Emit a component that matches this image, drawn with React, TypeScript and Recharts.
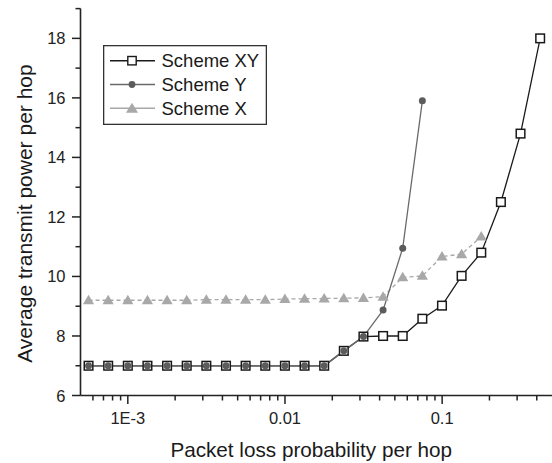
import React from "react"
import { LineChart, Line, XAxis, YAxis } from "recharts"

// packet loss probability per hop (x values, shared by all schemes)
const lossProb = [
  5.625e-4, 7.5e-4, 1e-3, 1.333e-3, 1.778e-3, 2.37e-3, 3.16e-3, 4.214e-3, 5.619e-3, 7.492e-3,
  9.989e-3, 1.332e-2, 1.776e-2, 2.368e-2, 3.157e-2, 4.209e-2, 5.612e-2, 7.483e-2, 9.977e-2,
  0.133, 0.1774, 0.2365, 0.3153, 0.4204,
]

const schemeXY = [
  7, 7, 7, 7, 7, 7, 7, 7, 7, 7, 7, 7, 7, 7.5, 7.98, 8.0, 8.0, 8.58, 9.02, 10.02, 10.8, 12.5, 14.8, 18.0,
]
const schemeY = [7, 7, 7, 7, 7, 7, 7, 7, 7, 7, 7, 7, 7, 7.5, 7.98, 8.87, 10.95, 15.9]
const schemeX = [
  9.2, 9.2, 9.2, 9.2, 9.2, 9.2, 9.22, 9.22, 9.22, 9.22, 9.24, 9.25, 9.26, 9.27, 9.28, 9.32, 9.97,
  10.02, 10.67, 10.75, 11.34,
]

const xTicks = [
  6e-4, 7e-4, 8e-4, 9e-4, 1e-3, 2e-3, 3e-3, 4e-3, 5e-3, 6e-3, 7e-3, 8e-3, 9e-3, 0.01, 0.02, 0.03,
  0.04, 0.05, 0.06, 0.07, 0.08, 0.09, 0.1, 0.2, 0.3, 0.4,
]
const xTickLabels: Record<string, string> = { "0.001": "1E-3", "0.01": "0.01", "0.1": "0.1" }
const yTicks = [6, 7, 8, 9, 10, 11, 12, 13, 14, 15, 16, 17, 18, 19]

const FONT = '"Liberation Sans", Arial, Helvetica, sans-serif'
const AXIS = "#222"

const toPoints = (ys: number[]) => ys.map((y, i) => ({ x: lossProb[i], y }))
const dataXY = toPoints(schemeXY)
const dataY = toPoints(schemeY)
const dataX = toPoints(schemeX)

const XTick = ({ x, y, payload }: any) => {
  const label = xTickLabels[String(payload.value)]
  return (
    <g>
      <line x1={x} x2={x} y1={y} y2={y + (label ? 8.5 : 5)} stroke={AXIS} strokeWidth={1.5} />
      {label && (
        <text x={x} y={y + 22.5} textAnchor="middle" dominantBaseline="central" fontSize={16.5} fill="#222" fontFamily={FONT}>
          {label}
        </text>
      )}
    </g>
  )
}

const YTick = ({ x, y, payload }: any) => {
  const major = payload.value % 2 === 0
  return (
    <g>
      <line x1={x} x2={x - (major ? 8.5 : 5)} y1={y} y2={y} stroke={AXIS} strokeWidth={1.5} />
      {major && (
        <text x={x - 15} y={y} textAnchor="end" dominantBaseline="central" fontSize={16.5} fill="#222" fontFamily={FONT}>
          {payload.value}
        </text>
      )}
    </g>
  )
}

const squareDot = (p: any) => (
  <rect key={p.index} x={p.cx - 4.3} y={p.cy - 4.3} width={8.6} height={8.6} fill="#fff" stroke="#1a1a1a" strokeWidth={1.5} />
)
const circleDot = (p: any) => <circle key={p.index} cx={p.cx} cy={p.cy} r={3.5} fill="#5c5c5c" />
const triangleDot = (p: any) => (
  <path key={p.index} d={`M${p.cx},${p.cy - 5.5} L${p.cx + 5.6},${p.cy + 4} L${p.cx - 5.6},${p.cy + 4} Z`} fill="#a8a8a8" />
)

const legendItems = [
  { name: "Scheme XY", color: "#1a1a1a", marker: "square" },
  { name: "Scheme Y", color: "#6a6a6a", marker: "circle" },
  { name: "Scheme X", color: "#a8a8a8", marker: "triangle" },
]

function ChartLegend() {
  return (
    <svg
      width={164}
      height={80}
      style={{ position: "absolute", left: 103, top: 45, overflow: "visible" }}
    >
      <rect x={0.65} y={0.65} width={162.7} height={78.7} fill="#fff" stroke="#333" strokeWidth={1.3} />
      {legendItems.map((item, i) => {
        const cy = 15.7 + i * 23.8
        const cx = 29
        return (
          <g key={item.name}>
            <line x1={7} x2={52} y1={cy} y2={cy} stroke={item.color} strokeWidth={1.4} />
            {item.marker === "square" && (
              <rect x={cx - 4.2} y={cy - 4.2} width={8.4} height={8.4} fill="#fff" stroke="#1a1a1a" strokeWidth={1.4} />
            )}
            {item.marker === "circle" && <circle cx={cx} cy={cy} r={3.4} fill="#5c5c5c" />}
            {item.marker === "triangle" && (
              <path d={`M${cx},${cy - 5.5} L${cx + 6},${cy + 4.5} L${cx - 6},${cy + 4.5} Z`} fill="#a8a8a8" />
            )}
            <text x={58.5} y={cy} dominantBaseline="central" fontSize={18.5} fill="#1a1a1a" fontFamily={FONT}>
              {item.name}
            </text>
          </g>
        )
      })}
    </svg>
  )
}

export default function App() {
  return (
    <div style={{ position: "absolute", left: 0, top: 0, width: 552, height: 463, background: "#fff" }}>
      <LineChart width={552} height={463} margin={{ top: 8.6, right: 0, bottom: 0, left: 0 }}>
        <XAxis
          type="number"
          dataKey="x"
          scale="log"
          domain={[5e-4, 0.5]}
          allowDataOverflow
          ticks={xTicks}
          interval={0}
          height={67.5}
          tickSize={0}
          tickMargin={0}
          tickLine={false}
          tick={<XTick />}
          axisLine={{ stroke: AXIS, strokeWidth: 1.6 }}
          label={{
            content: ({ viewBox }: any) => (
              <text
                x={viewBox.x + viewBox.width / 2 - 5}
                y={viewBox.y + 54}
                textAnchor="middle"
                dominantBaseline="central"
                fontSize={20.7}
                fill="#1a1a1a"
                fontFamily={FONT}
              >
                Packet loss probability per hop
              </text>
            ),
          }}
        />
        <YAxis
          type="number"
          dataKey="y"
          domain={[6, 19]}
          ticks={yTicks}
          interval={0}
          width={80.5}
          tickSize={0}
          tickMargin={0}
          tickLine={false}
          tick={<YTick />}
          axisLine={{ stroke: AXIS, strokeWidth: 1.6 }}
          label={{
            content: ({ viewBox }: any) => {
              const cx = 25
              const cy = viewBox.y + viewBox.height / 2 + 11.5
              return (
                <text
                  x={cx}
                  y={cy}
                  transform={`rotate(-90, ${cx}, ${cy})`}
                  textAnchor="middle"
                  dominantBaseline="central"
                  fontSize={21}
                  fill="#1a1a1a"
                  fontFamily={FONT}
                >
                  Average transmit power per hop
                </text>
              )
            },
          }}
        />
        <Line
          data={dataX}
          dataKey="y"
          name="Scheme X"
          type="linear"
          stroke="#a8a8a8"
          strokeWidth={1.3}
          strokeDasharray="4 3"
          dot={triangleDot}
          activeDot={false}
          isAnimationActive={false}
        />
        <Line
          data={dataXY}
          dataKey="y"
          name="Scheme XY"
          type="linear"
          stroke="#1a1a1a"
          strokeWidth={1.3}
          dot={squareDot}
          activeDot={false}
          isAnimationActive={false}
        />
        <Line
          data={dataY}
          dataKey="y"
          name="Scheme Y"
          type="linear"
          stroke="#6a6a6a"
          strokeWidth={1.3}
          dot={circleDot}
          activeDot={false}
          isAnimationActive={false}
        />
      </LineChart>
      <ChartLegend />
    </div>
  )
}
